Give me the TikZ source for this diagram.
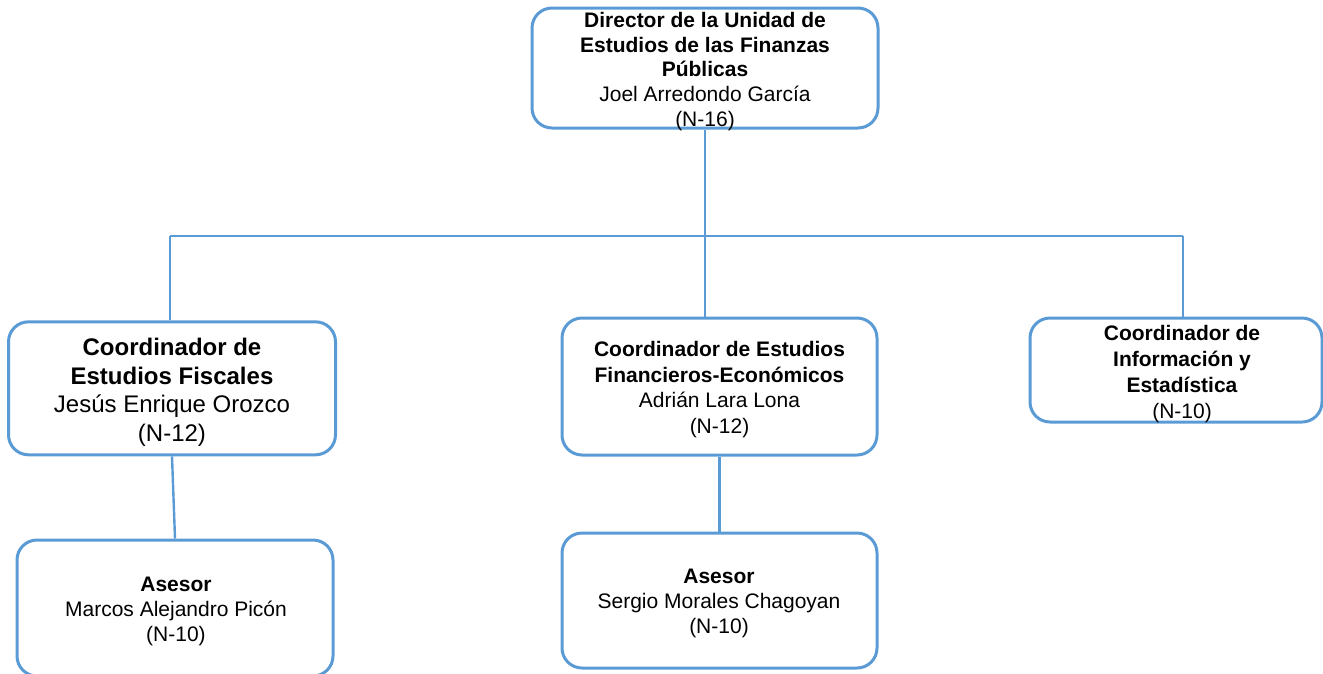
\documentclass[tikz,border=0pt]{standalone}
\usepackage{fontspec}
\setmainfont{Liberation Sans}
\definecolor{lineblue}{RGB}{91,155,213}
\begin{document}
\begin{tikzpicture}[x=1pt,y=-1pt,
  box/.style={draw=lineblue, line width=3pt, rounded corners=20pt, inner sep=0pt},
  link/.style={draw=lineblue, line width=2.4pt},
  txt/.style={align=center, inner sep=0pt, anchor=base, text=black}]
\useasboundingbox (0,0) rectangle (1323,673);
% boxes
\node[box, minimum width=346pt, minimum height=120pt] (dir) at (705,68) {};
\node[box, minimum width=327pt, minimum height=133pt] (fis) at (172,388.3) {};
\node[box, minimum width=315pt, minimum height=137pt] (fin) at (719.5,386.5) {};
\node[box, minimum width=292pt, minimum height=104pt] (inf) at (1176,370) {};
\node[box, minimum width=316pt, minimum height=136pt] (ase1) at (175,608) {};
\node[box, minimum width=315pt, minimum height=135pt] (ase2) at (719.5,600.5) {};
% texts (anchor = baseline of last line)
\node[txt, font=\fontsize{21}{24.6}\selectfont] (dirT) at (705,126)
  {\textbf{Director de la Unidad de}\\\textbf{Estudios de las Finanzas}\\\textbf{Públicas}\\Joel Arredondo García\\(N-16)};
\node[txt, font=\fontsize{24}{28.8}\selectfont] (fisT) at (172,441.7)
  {\textbf{Coordinador de}\\\textbf{Estudios Fiscales}\\Jesús Enrique Orozco\\(N-12)};
\node[txt, font=\fontsize{21}{25.5}\selectfont] (finT) at (719.5,433.3)
  {\textbf{Coordinador de Estudios}\\\textbf{Financieros-Económicos}\\Adrián Lara Lona\\(N-12)};
\node[txt, font=\fontsize{21}{26}\selectfont] (infT) at (1182,418)
  {\textbf{Coordinador de}\\\textbf{Información y}\\\textbf{Estadística}\\(N-10)};
\node[txt, font=\fontsize{21}{25}\selectfont] (ase1T) at (176,641.7)
  {\textbf{Asesor}\\Marcos Alejandro Picón\\(N-10)};
\node[txt, font=\fontsize{21}{25}\selectfont] (ase2T) at (719,633.3)
  {\textbf{Asesor}\\Sergio Morales Chagoyan\\(N-10)};
% connectors
\coordinate (busL) at (170,236);
\coordinate (busM) at (705,236);
\coordinate (busR) at (1183,236);
\draw[link] (dir.south) -- (busM);
\draw[link] (busL) -- (busR);
\draw[link] (busL) -- (busL |- fis.north);
\draw[link] (busM) -- (busM |- fin.north);
\draw[link] (busR) -- (busR |- inf.north);
\draw[link] (fis.south) -- (ase1.north);
\draw[link] (fin.south) -- (ase2.north);
\end{tikzpicture}
\end{document}
